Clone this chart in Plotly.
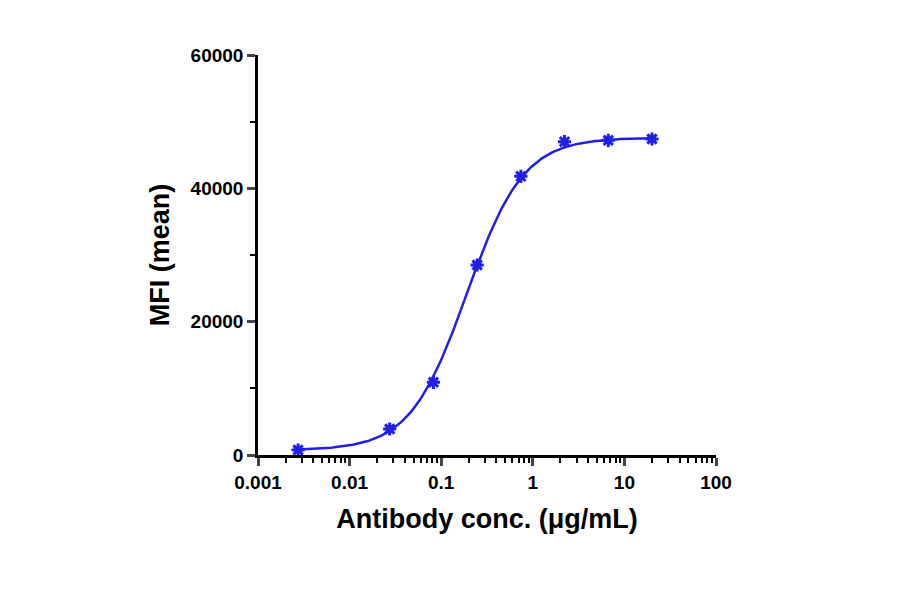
import numpy as np
import plotly.graph_objects as go

conc = [0.00274, 0.0274, 0.0823, 0.247, 0.741, 2.22, 6.67, 20.0]
mfi = [750, 3900, 10900, 28500, 41800, 47000, 47200, 47400]
# 4PL fit parameters
BOTTOM, TOP, EC50, HILL = 700, 47600, 0.19, 1.4

xc = np.logspace(np.log10(conc[0]), np.log10(conc[-1]), 300)
yc = BOTTOM + (TOP - BOTTOM) / (1 + (EC50 / xc) ** HILL)

minor_x = [m * 10.0 ** d for d in range(-3, 2) for m in range(2, 10)]

blue = "#1f1fe6"
fig = go.Figure()
fig.add_trace(go.Scatter(x=xc, y=yc, mode="lines", line=dict(color=blue, width=2.5), showlegend=False))
fig.add_trace(go.Scatter(x=conc, y=mfi, mode="markers",
                         marker=dict(symbol="asterisk", size=11, color=blue, line=dict(color=blue, width=3)),
                         showlegend=False))
font = dict(family="Liberation Sans, Arial", size=19, color="black")
fig.update_layout(
    width=900, height=594, margin=dict(l=250, r=192, t=47, b=147),
    plot_bgcolor="white", paper_bgcolor="white", font=font,
    xaxis=dict(type="log", range=[-3, 2], showline=True, linewidth=2.5, linecolor="black",
               ticks="outside", ticklen=8, tickwidth=2.5, showgrid=False, zeroline=False,
               tickvals=[0.001, 0.01, 0.1, 1, 10, 100],
               ticktext=["<b>0.001</b>", "<b>0.01</b>", "<b>0.1</b>", "<b>1</b>", "<b>10</b>", "<b>100</b>"],
               minor=dict(ticks="outside", ticklen=5, tickwidth=1.5, tickcolor="black", showgrid=False,
                          tickvals=minor_x),
               title=dict(text="<b>Antibody conc. (μg/mL)</b>", font=dict(size=27), standoff=18)),
    yaxis=dict(range=[0, 60000], showline=True, linewidth=2.5, linecolor="black",
               ticks="outside", ticklen=8, tickwidth=2.5, showgrid=False, zeroline=False,
               tickvals=[0, 20000, 40000, 60000],
               ticktext=["<b>0</b>", "<b>20000</b>", "<b>40000</b>", "<b>60000</b>"],
               minor=dict(ticks="outside", ticklen=5, tickwidth=1.5, tickcolor="black", dtick=10000),
               title=dict(text="<b>MFI (mean)</b>", font=dict(size=27), standoff=14)),
)
fig.write_html("out.html")
